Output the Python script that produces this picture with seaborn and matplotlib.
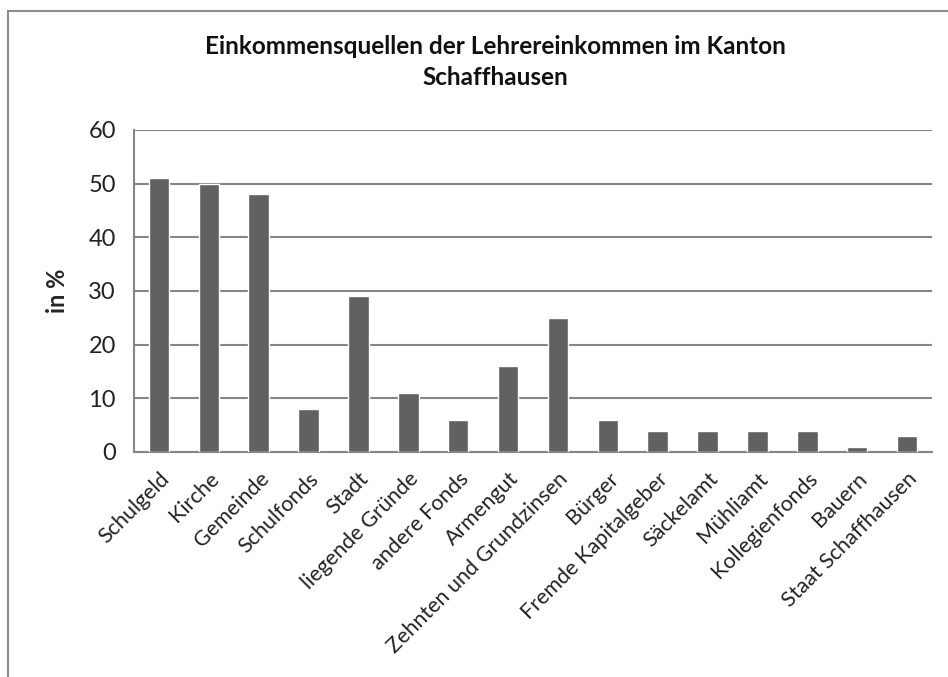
import matplotlib
matplotlib.use('Agg')
import matplotlib.pyplot as plt
from matplotlib.patches import Rectangle
import seaborn as sns
import pandas as pd

categories = ['Schulgeld', 'Kirche', 'Gemeinde', 'Schulfonds', 'Stadt',
              'liegende Gründe', 'andere Fonds', 'Armengut',
              'Zehnten und Grundzinsen', 'Bürger', 'Fremde Kapitalgeber',
              'Säckelamt', 'Mühliamt', 'Kollegienfonds', 'Bauern',
              'Staat Schaffhausen']
values = [51, 50, 48, 8, 29, 11, 6, 16, 25, 6, 4, 4, 4, 4, 1, 3]
y_ticks = [0, 10, 20, 30, 40, 50, 60]

sns.set_style('white')
plt.rcParams['font.family'] = ['Lato', 'DejaVu Sans']

df = pd.DataFrame({'Quelle': categories, 'Anteil': values})

fig = plt.figure(figsize=(9.48, 6.77), dpi=100)
ax = fig.add_axes([134 / 948, 1 - 452 / 677, (932 - 134) / 948, (452 - 130) / 677])

grid_col = '#868686'
sns.barplot(data=df, x='Quelle', y='Anteil', color='#616161', width=0.41,
            saturation=1, ax=ax, zorder=3)

ax.set_ylim(0, 60)
ax.set_xlim(-0.5, len(categories) - 0.5)
ax.set_yticks(y_ticks)
ax.yaxis.grid(True, color=grid_col, linewidth=1.5, zorder=0)
ax.set_axisbelow(True)
for s in ['top', 'right']:
    ax.spines[s].set_visible(False)
for s in ['left', 'bottom']:
    ax.spines[s].set_color(grid_col)
    ax.spines[s].set_linewidth(1.5)

# category labels at bar centres, tick marks at category boundaries
ax.set_xticks(range(len(categories)))
ax.set_xticklabels(categories, rotation=45, ha='right', rotation_mode='anchor',
                   fontsize=15.5, color='#222222')
ax.tick_params(axis='x', length=0, pad=12)
ax.set_xticks([i - 0.5 for i in range(len(categories) + 1)], minor=True)
ax.tick_params(axis='x', which='minor', length=6, width=1.5, color=grid_col, direction='out')
ax.tick_params(axis='y', length=6, width=1.5, color=grid_col, labelsize=17,
               labelcolor='#222222', pad=7)

ax.set_xlabel('')
ax.set_ylabel('in %', fontsize=17, fontweight='bold', labelpad=14)

fig.text(495 / 948, 1 - 62 / 677,
         'Einkommensquellen der Lehrereinkommen im Kanton\nSchaffhausen',
         ha='center', va='center', fontsize=17.5, fontweight='bold',
         linespacing=1.4, color='#111111')

# outer chart frame (cut off at right and bottom like the reference)
fig.patches.append(Rectangle((8 / 948, -0.1), 1.2, 1.1 - 12 / 677 + 0.002,
                             transform=fig.transFigure, fill=False,
                             edgecolor='#8c8c8c', linewidth=1.5))

fig.savefig('out.png', dpi=100)
